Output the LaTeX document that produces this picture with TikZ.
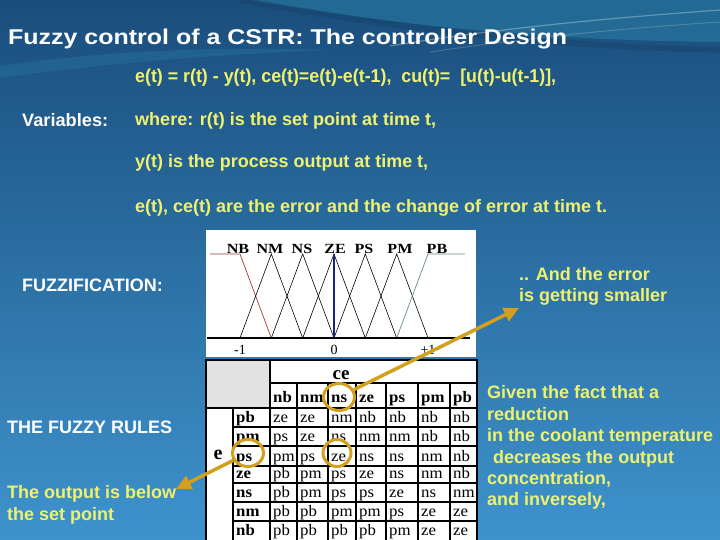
\documentclass[tikz,border=0pt]{standalone}
\usepackage{fontspec}
\setmainfont{Liberation Sans}
\newfontfamily\tms{Liberation Serif}
\usetikzlibrary{arrows.meta,shapes.geometric}
\definecolor{txtyel}{HTML}{EEF26E}
\definecolor{gold}{HTML}{D2A01C}
\definecolor{bgtop}{HTML}{1A4D7C}
\definecolor{bgbot}{HTML}{3E93CD}
\definecolor{nbred}{HTML}{A33A3A}
\definecolor{pbgrey}{HTML}{6A8C8C}
\definecolor{zeblue}{HTML}{1A2380}
\definecolor{cellgray}{HTML}{E2E2E2}
\definecolor{swoosh}{HTML}{2C8CB0}
\newcommand\fsz[2]{\fontsize{#1}{#2}\selectfont}
\newcommand\fitw[3]{\resizebox{#1pt}{#2pt}{#3}}
\newcommand\sx[1]{\scalebox{1.05}[1]{#1}}
\begin{document}
\begin{tikzpicture}[x=1pt,y=-1pt,
  txt/.style={anchor=base west, inner sep=0pt, font=\fsz{18}{22}\bfseries},
  yel/.style={txt, text=txtyel},
  wht/.style={txt, text=white},
  mf/.style={line width=0.6pt, black},
  tline/.style={line width=1.3pt, black},
  cell/.style={anchor=base west, inner sep=0pt, font=\tms\fsz{16}{18}},
  hcell/.style={anchor=base west, inner sep=0pt, font=\tms\fsz{16}{18}\bfseries},
  mlab/.style={anchor=base, inner sep=0pt, font=\tms\fsz{14}{16}\bfseries},
  axlab/.style={anchor=base, inner sep=0pt, font=\tms\fsz{14}{16}},
  ring/.style={ellipse, draw=gold, line width=3pt, inner sep=0pt},
  goldarrow/.style={draw=gold, line width=3.5pt, -{Triangle[length=15pt,width=14pt]}}
]
\useasboundingbox (0,0) rectangle (720,540);
% background
\shade[top color=bgtop, bottom color=bgbot] (0,0) rectangle (720,540);
\fill[swoosh, opacity=0.45] (250,0) .. controls (380,22) and (520,40) .. (720,42) -- (720,0) -- cycle;
\draw[bgtop!80!black, opacity=0.35, line width=6pt] (240,0) .. controls (380,25) and (520,45) .. (720,50);
\draw[white, opacity=0.3, line width=1.2pt] (390,46) .. controls (500,28) and (610,18) .. (720,10);
\draw[white, opacity=0.18, line width=1pt] (430,52) .. controls (540,36) and (630,28) .. (720,22);
\fill[swoosh, opacity=0.25] (0,66) .. controls (100,52) and (200,46) .. (330,50) .. controls (220,54) and (100,64) .. (0,78) -- cycle;

% title and formulas
\node[wht] (title) at (8,45) {\fitw{559}{15.5}{\fsz{21}{25}\bfseries Fuzzy control of a CSTR: The controller Design}};
\node[yel] (formula) at (135,83) {\fitw{421}{13.5}{\fsz{17}{20}\bfseries e(t) = r(t) - y(t), ce(t)=e(t)-e(t-1),\ \ cu(t)=\ \ [u(t)-u(t-1)],}};
\node[wht] (vars) at (22,127) {\fitw{86}{13}{\fsz{17}{20}\bfseries Variables:}};
\node[yel] (where) at (135,126) {\fitw{301}{13}{\fsz{17}{20}\bfseries where: r(t) is the set point at time t,}};
\node[yel] (yt) at (135,168) {\fitw{293}{13}{\fsz{17}{20}\bfseries y(t) is the process output at time t,}};
\node[yel] (et) at (135,212) {\fitw{472}{13}{\fsz{17}{20}\bfseries e(t), ce(t) are the error and the change of error at time t.}};

% left labels
\node[wht] (fuzz) at (22,291) {FUZZIFICATION:};
\node[wht] (rules) at (7,433) {THE FUZZY RULES};
\node[yel] (below1) at (7,498) {The output is below};
\node[yel] (below2) at (7,520) {the set point};

% right labels
\node[yel] (err1) at (519,280) {.. And the error};
\node[yel] (err2) at (519,301) {is getting smaller};
\node[yel] (g1) at (487,398) {Given the fact that a};
\node[yel] (g2) at (487,420) {reduction};
\node[yel] (g3) at (487,441) {in the coolant temperature};
\node[yel] (g4) at (493,463) {decreases the output};
\node[yel] (g5) at (487,484) {concentration,};
\node[yel] (g6) at (487,505) {and inversely,};

% membership function plot
\fill[white] (206,230) rectangle (476,357);
\draw[nbred, line width=0.7pt] (210,254) -- (240,254) -- (271.3,338);
\draw[mf] (240,338) -- (271.3,254) -- (302.7,338);
\draw[mf] (271.3,338) -- (302.7,254) -- (334,338);
\draw[mf] (302.7,338) -- (334,254) -- (365.3,338);
\draw[mf] (334,338) -- (365.3,254) -- (396.7,338);
\draw[mf] (365.3,338) -- (396.7,254) -- (428,338);
\draw[pbgrey, line width=0.7pt] (396.7,338) -- (428,254) -- (465,254);
\draw[zeblue, line width=2.2pt] (334,338) -- (334,254);
\draw[black, line width=1.6pt] (207,338) -- (470,338);
\foreach \n/\x in {NB/238,NM/270,NS/302,ZE/335,PS/364,PM/400,PB/437}
  \node[mlab] (lab\n) at (\x,254) {\scalebox{1.15}[1]{\n}};
\node[axlab] (tm1) at (240,354) {-1};
\node[axlab] (t0) at (334,354) {0};
\node[axlab] (tp1) at (428,354) {+1};

% rule table
\fill[white] (206,360) rectangle (477,540);
\fill[cellgray] (206,360) rectangle (270,408);
\draw[tline] (206,360) rectangle (477,541);
\draw[tline] (270,383) -- (477,383);
\draw[tline] (206,408) -- (477,408);
\foreach \y in {427,446,466,483,502,521} \draw[tline] (233,\y) -- (477,\y);
\draw[tline] (233,408) -- (233,541);
\draw[tline] (270,360) -- (270,541);
\foreach \x in {297,328,356,386,418,450} \draw[tline] (\x,383) -- (\x,541);
\node[anchor=base, inner sep=0pt, font=\tms\fsz{19}{21}\bfseries] (ce) at (341,379) {ce};
\node[anchor=base, inner sep=0pt, font=\tms\fsz{20}{22}\bfseries] (e) at (218,459) {e};
\foreach \h/\x in {nb/270,nm/297,ns/328,ze/356,ps/386,pm/418,pb/450}
  \node[hcell] (h\h) at (\x+3,402) {\sx{\h}};
\foreach \r/\yb/\cells in {
  pb/427/{ze,ze,nm,nb,nb,nb,nb},
  pm/446/{ps,ze,ns,nm,nm,nb,nb},
  ps/466/{pm,ps,ze,ns,ns,nm,nb},
  ze/483/{pb,pm,ps,ze,ns,nm,nb},
  ns/502/{pb,pm,ps,ps,ze,ns,nm},
  nm/521/{pb,pb,pm,pm,ps,ze,ze},
  nb/540/{pb,pb,pb,pb,pm,ze,ze}} {
  \node[hcell] (r\r) at (236,\yb-5) {\sx{\r}};
  \foreach \c [count=\i] in \cells {
    \pgfmathsetmacro{\cx}{{270,297,328,356,386,418,450}[\i-1]+3}
    \node[cell] (c\r\i) at (\cx,\yb-5) {\sx{\c}};
  }
}

% highlight rings and arrows
\node[ring, minimum width=31pt, minimum height=27pt] (ringce) at (339,397) {};
\node[ring, minimum width=31pt, minimum height=27pt] (ringe) at (248,453) {};
\node[ring, minimum width=28pt, minimum height=27pt] (ringcell) at (337,453) {};
\coordinate (tipA) at (519,308);
\coordinate (tipB) at (176,489);
\draw[goldarrow] (ringce) -- (tipA);
\draw[goldarrow] (ringe) -- (tipB);
\end{tikzpicture}
\end{document}
